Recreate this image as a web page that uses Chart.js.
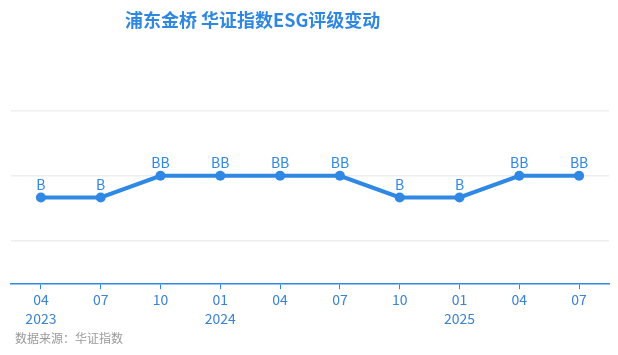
<!DOCTYPE html>
<html>
<head>
<meta charset="utf-8">
<script src="https://cdn.jsdelivr.net/npm/chart.js@4/dist/chart.umd.min.js"></script>
<style>
  body { margin: 0; background: #fff; }
  #wrap { position: relative; width: 618px; height: 355px; }
  #title {
    position: absolute; left: 125px; top: 6px;
    font: bold 18px "Noto Sans CJK SC", sans-serif; color: #2f87e0;
    white-space: nowrap;
  }
  #source {
    position: absolute; left: 15px; top: 329px;
    font: 12px "Noto Sans CJK SC", sans-serif; color: #9a9a9a;
  }
</style>
</head>
<body>
<div id="wrap">
  <canvas id="esgChart" width="618" height="355"></canvas>
  <div id="title">浦东金桥 华证指数ESG评级变动</div>
  <div id="source">数据来源：华证指数</div>
</div>
<script>
// rating scale, lowest to highest
const ratingLevels = ['C', 'CC', 'CCC', 'B', 'BB', 'BBB', 'A', 'AA', 'AAA'];

// quarter labels (month, year on first of the year)
const months = ['04', '07', '10', '01', '04', '07', '10', '01', '04', '07'];
const years = ['2023', '', '', '2024', '', '', '', '2025', '', ''];

// ESG rating per quarter
const ratings = ['B', 'B', 'BB', 'BB', 'BB', 'BB', 'B', 'B', 'BB', 'BB'];

const gridTicks = [2, 5, 8];

const blue = '#2f88e3';

document.addEventListener('DOMContentLoaded', function () {
    const ctx = document.getElementById('esgChart').getContext('2d');

    const labels = months.map(function (m, i) {
        return [m, years[i]];
    });
    const values = ratings.map(function (r) {
        return ratingLevels.indexOf(r) + 1;
    });

    // write rating text above each point
    const ratingLabels = {
        id: 'ratingLabels',
        afterDatasetsDraw(chart) {
            const meta = chart.getDatasetMeta(0);
            const c = chart.ctx;
            c.save();
            c.font = '14px "Noto Sans CJK SC", sans-serif';
            c.fillStyle = blue;
            c.textAlign = 'center';
            c.textBaseline = 'bottom';
            meta.data.forEach(function (pt, i) {
                c.fillText(ratings[i], pt.x, pt.y - 6);
            });
            c.restore();
        }
    };

    new Chart(ctx, {
        type: 'line',
        data: {
            labels: labels,
            datasets: [{
                data: values,
                borderColor: blue,
                backgroundColor: blue,
                borderWidth: 4,
                pointRadius: 5,
                pointBackgroundColor: blue,
                pointBorderWidth: 0,
                tension: 0
            }]
        },
        options: {
            responsive: false,
            animation: false,
            layout: { padding: { left: 11, right: 9, top: 89, bottom: 26 } },
            plugins: {
                legend: { display: false },
                tooltip: { enabled: false }
            },
            scales: {
                x: {
                    offset: true,
                    grid: {
                        offset: false,
                        drawOnChartArea: false,
                        drawTicks: true,
                        tickLength: 5,
                        color: blue
                    },
                    border: { display: true, color: blue, width: 1.5 },
                    ticks: {
                        color: '#3a82d2',
                        font: { size: 14, family: '"Noto Sans CJK SC", sans-serif', lineHeight: 1.35 },
                        padding: 1,
                        maxRotation: 0,
                        autoSkip: false
                    }
                },
                y: {
                    min: 0,
                    max: 9,
                    afterBuildTicks: function (scale) {
                        scale.ticks = gridTicks.map(function (v) { return { value: v }; });
                    },
                    afterFit: function (scale) { scale.width = 0; },
                    grid: { color: '#eeeeee', lineWidth: 1.5, drawTicks: false },
                    border: { display: false },
                    ticks: { display: false }
                }
            }
        },
        plugins: [ratingLabels]
    });
});
</script>
</body>
</html>
